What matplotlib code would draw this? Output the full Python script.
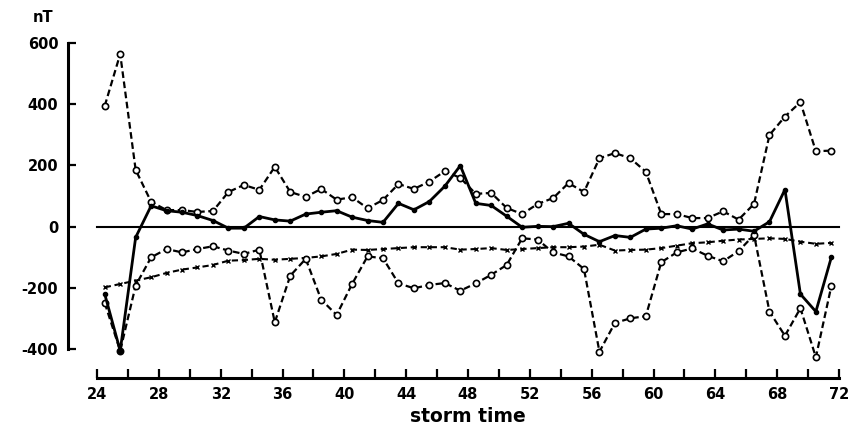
import matplotlib
matplotlib.use("Agg")
import matplotlib.pyplot as plt
import numpy as np
from matplotlib.ticker import MultipleLocator

plt.rcParams['font.family'] = ['DejaVu Sans']

# storm time (hours), one value per hour at the half hour
hours = [24.5 + i for i in range(48)]

upper_dashed = [394, 563, 185, 81, 54, 54, 48, 51, 113, 136, 120, 195, 113, 97, 123, 88,
                96, 60, 87, 139, 123, 147, 181, 159, 107, 110, 61, 41, 74, 93, 142, 113,
                223, 240, 223, 179, 41, 41, 28, 28, 50, 23, 74, 299, 359, 406, 246, 248]

solid_line = [-220, -405, -35, 68, 52, 47, 36, 20, -5, -5, 33, 22, 18, 41, 47, 52,
              31, 20, 14, 76, 55, 82, 132, 199, 76, 69, 34, -2, 1, 0, 11, -25,
              -49, -29, -35, -8, -5, 3, -8, 9, -11, -8, -15, 16, 121, -220, -277, -100]

lower_dashed = [-249, -405, -192, -100, -73, -84, -73, -64, -78, -89, -75, -312, -160, -105, -238, -288,
                -187, -97, -103, -185, -201, -190, -184, -209, -185, -157, -125, -38, -42, -84, -97, -138,
                -408, -314, -299, -292, -116, -84, -71, -95, -113, -80, -27, -277, -356, -266, -426, -194]

smooth_dashed = [-198, -187, -176, -165, -151, -140, -133, -125, -111, -109, -105, -108, -105, -102, -97, -89,
                 -75, -76, -73, -70, -67, -67, -67, -75, -73, -70, -76, -73, -70, -67, -67, -65,
                 -59, -78, -76, -75, -70, -62, -54, -51, -46, -42, -40, -38, -40, -49, -56, -53]

x_range = [24, 72]
baseline = [0, 0]
y_range = [-400, 600]
x_tick_labels = ['24', '28', '32', '36', '40', '44', '48', '52', '56', '60', '64', '68', '72']
y_tick_labels = ['-400', '-200', '0', '200', '400', '600']

fig = plt.figure(figsize=(8.54, 4.29), dpi=100)
ax = fig.add_axes([0.1136, 0.1858, 0.8689, 0.7147])
ax.set_xlim(*x_range)
ax.set_ylim(*y_range)

ax.plot(x_range, baseline, color='black', lw=1.5, zorder=1, clip_on=False)

ax.plot(hours, smooth_dashed, color='black', lw=1.5, dashes=(3, 1.8),
        marker='x', markersize=2.5, markeredgewidth=1.0, zorder=2, clip_on=False)

ax.plot(hours, upper_dashed, color='black', lw=1.6, dashes=(3, 1.6),
        marker='o', markersize=4.5, markerfacecolor='white', markeredgecolor='black',
        markeredgewidth=1.2, zorder=3, clip_on=False)

ax.plot(hours, lower_dashed, color='black', lw=1.6, dashes=(3, 1.6),
        marker='o', markersize=4.5, markerfacecolor='white', markeredgecolor='black',
        markeredgewidth=1.2, zorder=3, clip_on=False)

ax.plot(hours, solid_line, color='black', lw=2.0, marker='o', markersize=3,
        markerfacecolor='black', markeredgecolor='black', zorder=4, clip_on=False)

for s in ['top', 'right']:
    ax.spines[s].set_visible(False)
ax.spines['left'].set_position(('outward', 20.9))
ax.spines['bottom'].set_position(('outward', 20.4))
ax.spines['left'].set_linewidth(2.2)
ax.spines['bottom'].set_linewidth(2.2)

xt = [int(t) for t in x_tick_labels]
ax.set_xticks(xt)
ax.set_xticklabels(x_tick_labels, fontsize=10.5, fontweight='bold')
ax.xaxis.set_minor_locator(MultipleLocator(2))
yt = [int(t) for t in y_tick_labels]
ax.set_yticks(yt)
ax.set_yticklabels(y_tick_labels, fontsize=10.5, fontweight='bold')

ax.tick_params(axis='x', which='both', direction='in', length=6.5, width=1.6, pad=7)
ax.tick_params(axis='y', which='both', direction='in', length=5.5, width=1.6, pad=7)

ax.set_xlabel('storm time', fontsize=13.5, fontweight='bold', labelpad=3)
fig.text(43 / 854, 1 - 18 / 429, 'nT', fontsize=10.5, fontweight='bold', ha='center', va='center')

fig.savefig('out.png', dpi=100, facecolor='white')
